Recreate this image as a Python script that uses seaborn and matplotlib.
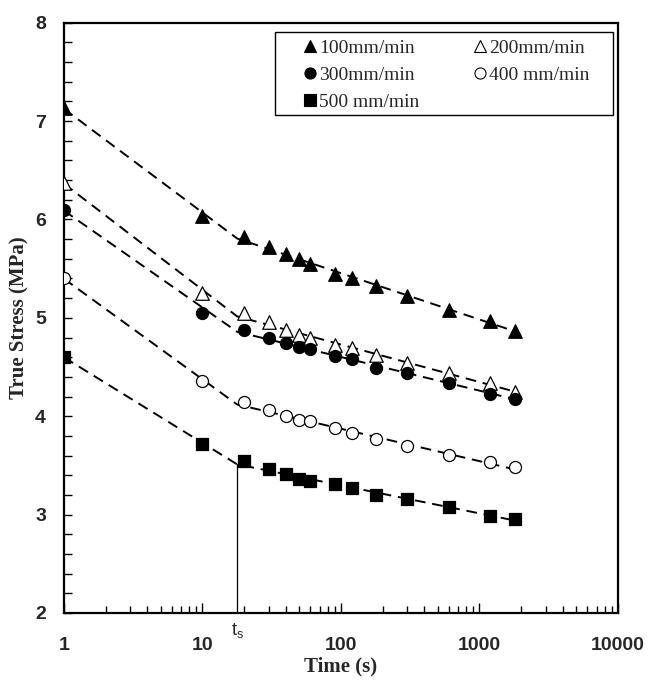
import numpy as np
import pandas as pd
import matplotlib
matplotlib.use("Agg")
import matplotlib.pyplot as plt
from matplotlib.lines import Line2D
from matplotlib.patches import Rectangle
from matplotlib.ticker import FixedLocator, MultipleLocator, LogLocator, NullFormatter
import seaborn as sns

# Relaxation measurements: true stress (MPa) against time (s) for five crosshead speeds
time_s = [1, 10, 20, 30, 40, 50, 60, 90, 120, 180, 300, 600, 1200, 1800]
stress_100 = [7.13, 6.04, 5.82, 5.72, 5.65, 5.60, 5.55, 5.45, 5.40, 5.32, 5.22, 5.08, 4.97, 4.87]
stress_200 = [6.37, 5.25, 5.05, 4.96, 4.88, 4.83, 4.79, 4.72, 4.69, 4.62, 4.54, 4.44, 4.34, 4.25]
stress_300 = [6.10, 5.05, 4.88, 4.80, 4.74, 4.70, 4.68, 4.61, 4.58, 4.49, 4.44, 4.34, 4.23, 4.18]
stress_400 = [5.40, 4.36, 4.14, 4.06, 4.00, 3.96, 3.95, 3.88, 3.83, 3.77, 3.70, 3.61, 3.53, 3.48]
stress_500 = [4.60, 3.72, 3.54, 3.46, 3.41, 3.36, 3.34, 3.31, 3.27, 3.20, 3.16, 3.08, 2.99, 2.96]
speed_labels = ["100mm/min", "200mm/min", "300mm/min", "400 mm/min", "500 mm/min"]
t_switch = 17.8  # transition time t_s between the two relaxation regimes

series = [stress_100, stress_200, stress_300, stress_400, stress_500]
markers = ["^", "^", "o", "o", "s"]
filled = [True, False, True, False, True]
msizes = [95, 95, 75, 75, 80]

sns.set_style("ticks")
plt.rcParams["font.family"] = ["Liberation Sans", "DejaVu Sans"]
serif = ["Liberation Serif", "DejaVu Serif"]

fig = plt.figure(figsize=(6.51, 6.83), dpi=100)
ax = fig.add_axes([0.0983, 0.1025, 0.8510, 0.8643])

rows = []
for lab, vals in zip(speed_labels, series):
    for t, v in zip(time_s, vals):
        rows.append({"speed": lab, "time": t, "stress": v})
df = pd.DataFrame(rows)


def hinge_fit(t, y, ts):
    """Continuous two-segment linear fit in log10(time) with a break at ts."""
    L = np.log10(np.asarray(t, float))
    Ls = np.log10(ts)
    X = np.column_stack([np.ones_like(L), L, np.clip(L - Ls, 0, None)])
    coef, *_ = np.linalg.lstsq(X, np.asarray(y, float), rcond=None)
    def f(tt):
        l = np.log10(np.asarray(tt, float))
        return coef[0] + coef[1] * l + coef[2] * np.clip(l - Ls, 0, None)
    return f


fits = []
for lab, vals in zip(speed_labels, series):
    f = hinge_fit(time_s, vals, t_switch)
    fits.append(f)
    xs = np.array([time_s[0], t_switch, time_s[-1]], float)
    sns.lineplot(x=xs, y=f(xs), ax=ax, color="black", lw=1.4,
                 linestyle=(0, (5.5, 3.5)), estimator=None, sort=False, zorder=2)

for lab, m, fl, ms in zip(speed_labels, markers, filled, msizes):
    sub = df[df["speed"] == lab]
    sns.scatterplot(data=sub, x="time", y="stress", ax=ax, marker=m, s=ms,
                    facecolor="black" if fl else "white", edgecolor="black",
                    linewidth=0.9, zorder=3, legend=False)

# Vertical marker at the transition time, up to the 500 mm/min fit
ax.plot([t_switch, t_switch], [2, float(fits[4](t_switch))], color="black", lw=0.9, zorder=1)

ax.set_xscale("log")
ax.set_xlim(1, 10000)
ax.set_ylim(2, 8)
ax.xaxis.set_major_locator(FixedLocator([1, 10, 100, 1000, 10000]))
ax.xaxis.set_minor_locator(LogLocator(base=10, subs=np.arange(2, 10)))
ax.xaxis.set_minor_formatter(NullFormatter())
ax.set_xticklabels(["1", "10", "100", "1000", "10000"])
ax.yaxis.set_major_locator(MultipleLocator(1))
ax.yaxis.set_minor_locator(MultipleLocator(0.2))

ax.tick_params(axis="both", which="both", direction="in", color="black", width=1.0)
ax.tick_params(axis="x", which="major", length=7, pad=17)
ax.tick_params(axis="x", which="minor", length=5)
ax.tick_params(axis="y", which="major", length=6, pad=13)
ax.tick_params(axis="y", which="minor", length=6)
for lbl in ax.get_xticklabels() + ax.get_yticklabels():
    lbl.set_fontweight("bold")
    lbl.set_fontsize(14)

for sp in ax.spines.values():
    sp.set_visible(True)
    sp.set_color("black")
    sp.set_linewidth(1.6)

ax.set_xlabel("Time (s)", family=serif, fontweight="bold", fontsize=15, labelpad=2)
ax.set_ylabel("True Stress (MPa)", family=serif, fontweight="bold", fontsize=15, labelpad=4)

ax.text(t_switch, 1.915, r"$\mathregular{t_s}$", fontsize=13,
        ha="center", va="top", transform=ax.transData, clip_on=False)

# Legend: framed box in the upper right corner, two columns
ax.add_patch(Rectangle((0.381, 0.844), 0.610, 0.140, transform=ax.transAxes,
                       facecolor="white", edgecolor="black", lw=1.0, zorder=4))
handles = []
for lab, m, fl in zip(speed_labels, markers, filled):
    handles.append(Line2D([], [], linestyle="none", marker=m, markersize=8,
                          markerfacecolor="black" if fl else "white",
                          markeredgecolor="black", markeredgewidth=0.8, label=lab))
order = [0, 2, 4, 1, 3]
leg = ax.legend([handles[i] for i in order], [speed_labels[i] for i in order],
                ncol=2, loc="upper left", bbox_to_anchor=(0.381, 0.979),
                prop={"family": serif, "size": 14},
                frameon=False, handlelength=3.2, handletextpad=-1.13,
                columnspacing=1.5, borderpad=0.2, labelspacing=0.5,
                borderaxespad=0)
leg.set_zorder(5)

fig.savefig("out.png", dpi=100)
